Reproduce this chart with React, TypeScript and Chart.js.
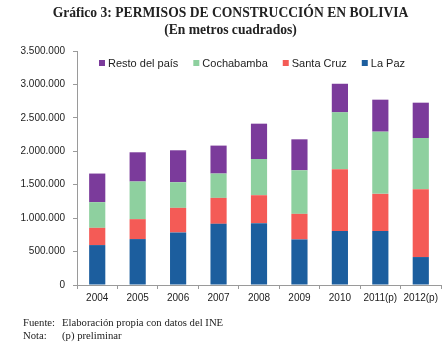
import React, { useEffect, useRef } from "react";
import { Chart, registerables } from "chart.js";

Chart.register(...registerables);

const categories = ["2004", "2005", "2006", "2007", "2008", "2009", "2010", "2011(p)", "2012(p)"];
const laPaz = [597000, 687000, 786000, 915000, 925000, 682000, 806000, 806000, 418000];
const santaCruz = [258000, 298000, 368000, 388000, 418000, 382000, 925000, 557000, 1015000];
const cochabamba = [384000, 563000, 383000, 364000, 542000, 652000, 851000, 931000, 766000];
const restoDelPais = [428000, 437000, 478000, 418000, 528000, 463000, 428000, 478000, 528000];
const yTicks = [0, 500000, 1000000, 1500000, 2000000, 2500000, 3000000, 3500000];

const SANS = "'Liberation Sans', Arial, sans-serif";
const SERIF = "'Liberation Serif', 'Times New Roman', serif";

const fmt = (v: number) => String(Math.round(v)).replace(/\B(?=(\d{3})+(?!\d))/g, ".");

const legendPlugin = {
  id: "insideLegend",
  afterDraw(chart: any) {
    const ctx = chart.ctx;
    ctx.save();
    ctx.font = `11px ${SANS}`;
    ctx.textBaseline = "middle";
    ctx.textAlign = "left";
    let x = 99;
    const y = 63;
    const ds = chart.data.datasets.slice().reverse();
    for (const d of ds) {
      ctx.fillStyle = d.backgroundColor;
      ctx.fillRect(x, y - 3, 6, 6);
      ctx.fillStyle = "#222";
      ctx.fillText(d.label, x + 9, y + 0.5);
      x += 9 + ctx.measureText(d.label).width + 15;
    }
    ctx.restore();
  },
};

export default function App() {
  const ref = useRef<HTMLCanvasElement>(null);
  useEffect(() => {
    if (!ref.current) return;
    const chart = new Chart(ref.current, {
      type: "bar",
      data: {
        labels: categories,
        datasets: [
          { label: "La Paz", data: laPaz, backgroundColor: "#1C5E9E" },
          { label: "Santa Cruz", data: santaCruz, backgroundColor: "#F45B56" },
          { label: "Cochabamba", data: cochabamba, backgroundColor: "#8ED09F" },
          { label: "Resto del país", data: restoDelPais, backgroundColor: "#7B3B9B" },
        ],
      },
      options: {
        responsive: false,
        animation: false,
        devicePixelRatio: 1,
        layout: { padding: { left: 0, right: 3, top: 51, bottom: 44 } },
        datasets: { bar: { barPercentage: 0.4, categoryPercentage: 1 } },
        plugins: { legend: { display: false }, tooltip: { enabled: false }, title: { display: false } },
        scales: {
          x: {
            stacked: true,
            offset: true,
            grid: { offset: true, drawOnChartArea: false, drawTicks: true, tickLength: 4, color: "#9a9a9a" },
            border: { color: "#9a9a9a", width: 1 },
            ticks: { color: "#222", font: { family: SANS, size: 10 }, padding: 3, maxRotation: 0, autoSkip: false },
            afterFit(scale: any) { scale.height = 22; },
          },
          y: {
            stacked: true,
            min: 0,
            max: 3500000,
            afterBuildTicks(scale: any) { scale.ticks = yTicks.map((v) => ({ value: v })); },
            grid: { drawOnChartArea: false, drawTicks: true, tickLength: 4, color: "#9a9a9a" },
            border: { color: "#9a9a9a", width: 1 },
            ticks: { color: "#222", font: { family: SANS, size: 10 }, padding: 8, callback: (v: any) => fmt(Number(v)) },
            afterFit(scale: any) { scale.width = 77; },
          },
        },
      },
      plugins: [legendPlugin],
    });
    return () => chart.destroy();
  }, []);

  return (
    <div style={{ position: "absolute", left: 0, top: 0, width: 444, height: 351, background: "#fff", overflow: "hidden" }}>
      <canvas ref={ref} width={444} height={351} style={{ position: "absolute", left: 0, top: 0, width: 444, height: 351 }} />
      <div style={{ position: "absolute", left: 0, top: 4, width: 461, textAlign: "center", fontFamily: SERIF, fontWeight: "bold", fontSize: 13.6, lineHeight: "17px", color: "#222" }}>
        <div>Gráfico 3: PERMISOS DE CONSTRUCCIÓN EN BOLIVIA</div>
        <div>(En metros cuadrados)</div>
      </div>
      <div style={{ position: "absolute", left: 23, top: 316, fontFamily: SERIF, fontSize: 10.7, lineHeight: "12.5px", color: "#222" }}>
        <div style={{ display: "flex" }}><span style={{ width: 39 }}>Fuente:</span><span>Elaboración propia con datos del INE</span></div>
        <div style={{ display: "flex" }}><span style={{ width: 39 }}>Nota:</span><span>(p) preliminar</span></div>
      </div>
    </div>
  );
}
